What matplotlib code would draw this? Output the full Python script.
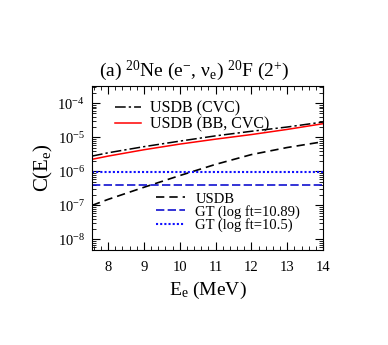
import matplotlib
matplotlib.use("Agg")
import matplotlib.pyplot as plt
from matplotlib.ticker import LogLocator, MultipleLocator, FixedLocator

plt.rcParams["font.family"] = ["Liberation Serif", "DejaVu Serif"]
plt.rcParams["mathtext.fontset"] = "custom"
plt.rcParams["mathtext.rm"] = "Liberation Serif"
plt.rcParams["mathtext.it"] = "Liberation Serif"
plt.rcParams["mathtext.bf"] = "Liberation Serif:bold"

# electron energy (MeV)
energy = [7.55, 8, 9, 10, 11, 12, 13, 14]

# cross sections
usdb_cvc = [2.8e-6, 3.5e-6, 5.3e-6, 7.7e-6, 1.1e-5, 1.5e-5, 2.0e-5, 2.8e-5]
usdb_bb_cvc = [2.25e-6, 2.8e-6, 4.3e-6, 6.3e-6, 8.8e-6, 1.2e-5, 1.7e-5, 2.5e-5]
usdb = [1.0e-7, 1.5e-7, 3.4e-7, 7.5e-7, 1.6e-6, 3.1e-6, 5.0e-6, 7.4e-6]
gt_1089 = 4.0e-7
gt_105 = 9.5e-7

fig = plt.figure(figsize=(3.88, 3.45), dpi=100)
ax = fig.add_axes([92 / 388, 1 - 250 / 345, 231 / 388, 164 / 345])

l1, = ax.plot(energy, usdb_cvc, color="black", lw=1.1, dashes=(7, 2, 1.5, 2))
l2, = ax.plot(energy, usdb_bb_cvc, color="red", lw=1.1)
l3, = ax.plot(energy, usdb, color="black", lw=1.2, dashes=(5, 3))
l4 = ax.axhline(gt_1089, color="#1010d0", lw=1.2, dashes=(5, 2))
l5 = ax.axhline(gt_105, color="#1010ff", lw=1.5, dashes=(1, 1))

ax.set_yscale("log")
ax.set_xlim(7.55, 14)
ax.set_ylim(4.9e-9, 3.2e-4)

ax.xaxis.set_major_locator(MultipleLocator(1))
ax.xaxis.set_minor_locator(MultipleLocator(0.2))
ax.yaxis.set_major_locator(FixedLocator([1e-8, 1e-7, 1e-6, 1e-5, 1e-4]))
ax.yaxis.set_minor_locator(LogLocator(base=10, subs=range(2, 10), numticks=20))
ax.set_yticklabels([r"10$^{-8}$", r"10$^{-7}$", r"10$^{-6}$", r"10$^{-5}$", r"10$^{-4}$"])
ax.tick_params(which="both", direction="in", top=True, right=True, labelsize=10.5)
ax.tick_params(which="major", length=6, width=0.8)
ax.tick_params(which="minor", length=3, width=0.6)
ax.tick_params(axis="x", pad=8)
ax.tick_params(axis="y", pad=5)
for s in ax.spines.values():
    s.set_linewidth(0.8)

ax.set_xlabel(r"E$_\mathrm{e}$ (MeV)", fontsize=14, labelpad=4)
ax.set_ylabel(r"C(E$_\mathrm{e}$)", fontsize=15, labelpad=2)
fig.text(0.5, 1 - 71 / 345, r"(a) $^{20}$Ne (e$^{-}$, ν$_\mathrm{e}$) $^{20}$F (2$^{+}$)",
         ha="center", va="center", fontsize=14)

leg1 = ax.legend([l1, l2], ["USDB (CVC)", "USDB (BB, CVC)"], loc="upper left",
                 bbox_to_anchor=(0.10, 0.91), frameon=False, fontsize=11.5,
                 handlelength=1.6, handletextpad=0.6, labelspacing=0.0,
                 borderaxespad=0, borderpad=0)
ax.add_artist(leg1)
ax.legend([l3, l4, l5], ["USDB", "GT (log ft=10.89)", "GT (log ft=10.5)"],
          loc="lower left", bbox_to_anchor=(0.277, 0.11), frameon=False, fontsize=10.5,
          handlelength=2.0, handletextpad=0.7, labelspacing=-0.05,
          borderaxespad=0, borderpad=0)

fig.savefig("out.png", dpi=100)
